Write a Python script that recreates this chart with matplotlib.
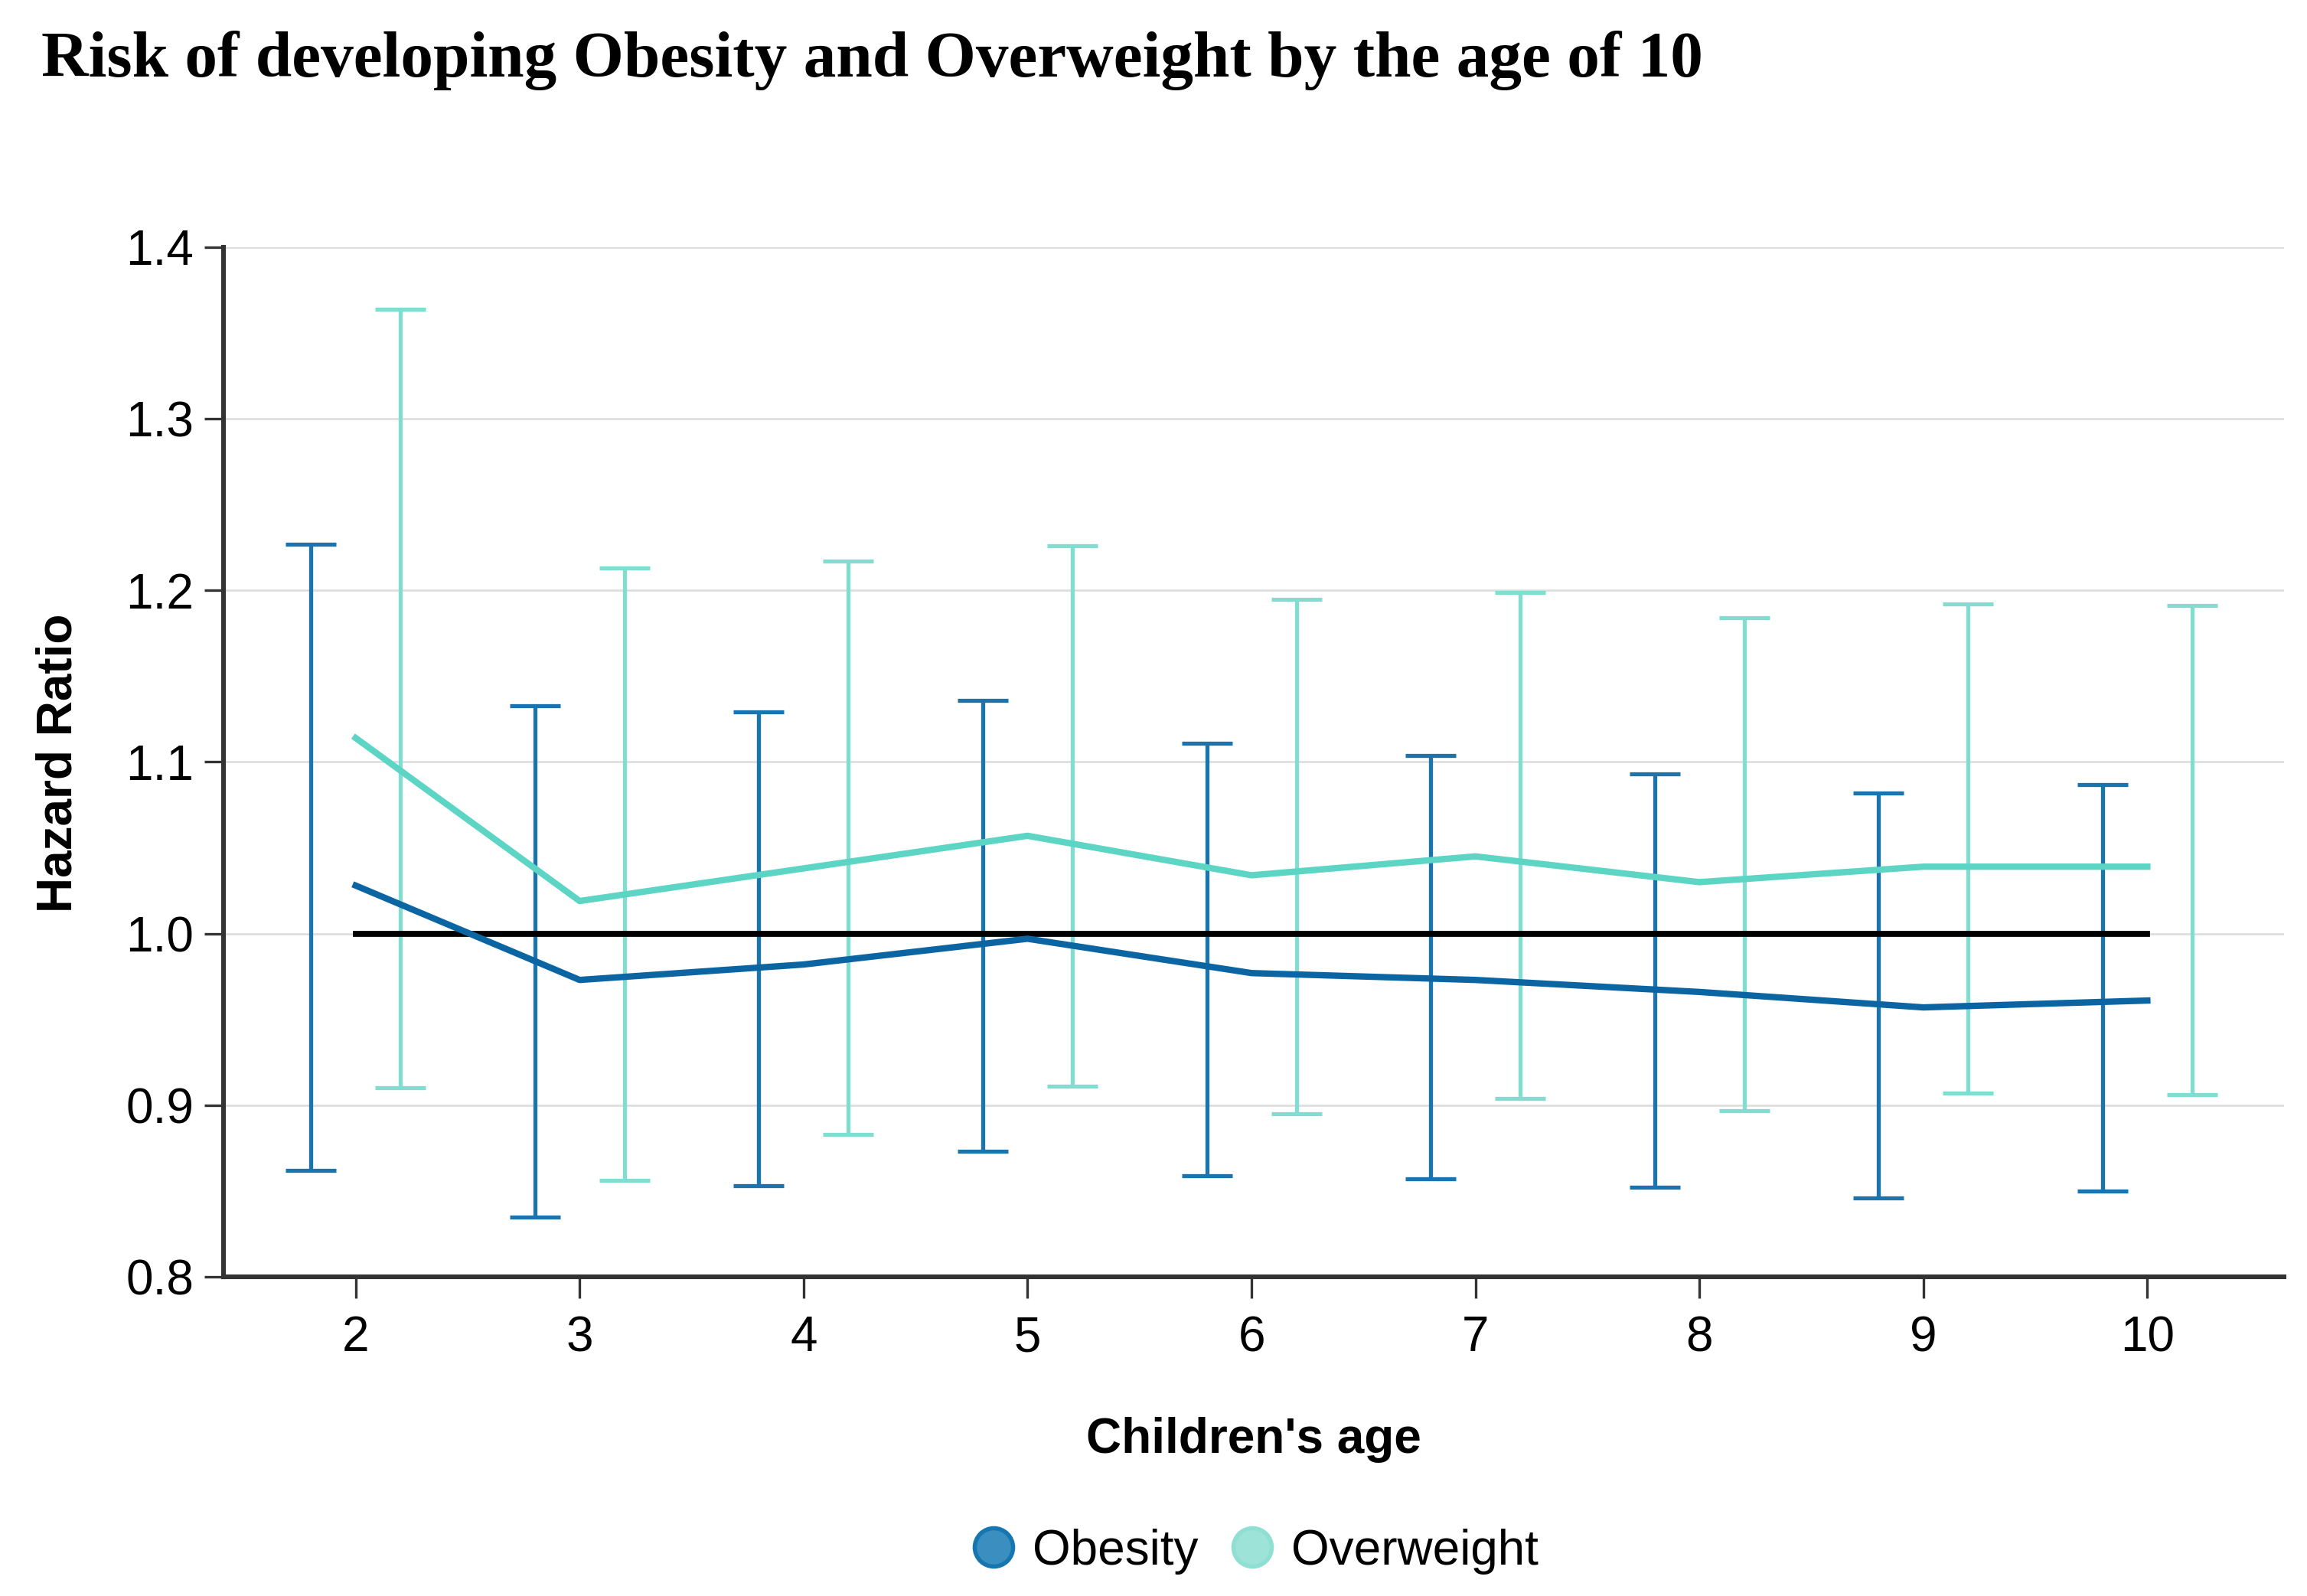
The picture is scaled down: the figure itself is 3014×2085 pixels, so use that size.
import numpy as np
import matplotlib
matplotlib.use("Agg")
import matplotlib.pyplot as plt
from matplotlib.lines import Line2D

# Data
ages = [2, 3, 4, 5, 6, 7, 8, 9, 10]

obesity_hr = [1.028, 0.973, 0.982, 0.997, 0.977, 0.973, 0.966, 0.957, 0.961]
obesity_upper = [1.227, 1.133, 1.129, 1.136, 1.111, 1.104, 1.093, 1.082, 1.087]
obesity_lower = [0.862, 0.835, 0.853, 0.873, 0.859, 0.857, 0.852, 0.846, 0.850]

overweight_hr = [1.114, 1.019, 1.038, 1.057, 1.034, 1.045, 1.030, 1.039, 1.039]
overweight_upper = [1.364, 1.213, 1.217, 1.226, 1.195, 1.199, 1.184, 1.192, 1.191]
overweight_lower = [0.910, 0.856, 0.883, 0.911, 0.895, 0.904, 0.897, 0.907, 0.906]

yticks = [0.8, 0.9, 1.0, 1.1, 1.2, 1.3, 1.4]

# Colours
ob_line = "#0b65a3"
ob_err = "#1c74af"
ow_line = "#5dd5c4"
ow_err = "#80ddd0"
axis_col = "#333333"

plt.rcParams["font.family"] = ["Liberation Sans", "DejaVu Sans"]

fig = plt.figure(figsize=(15.07, 10.425), dpi=200)
ax = fig.add_axes([0.0969, 0.2000, 0.8931, 0.6451])

x = np.array(ages, dtype=float)

# grid
ax.set_axisbelow(True)
ax.grid(axis="y", color="#dcdcdc", linewidth=0.9)
ax.grid(axis="x", visible=False)

# error bars (offset left / right of each age)
ob_mid = (np.array(obesity_upper) + np.array(obesity_lower)) / 2
ob_half = (np.array(obesity_upper) - np.array(obesity_lower)) / 2
ow_mid = (np.array(overweight_upper) + np.array(overweight_lower)) / 2
ow_half = (np.array(overweight_upper) - np.array(overweight_lower)) / 2

ax.errorbar(x - 0.2, ob_mid, yerr=ob_half, fmt="none", ecolor=ob_err,
            elinewidth=1.9, capsize=12, capthick=1.9, zorder=2)
ax.errorbar(x + 0.2, ow_mid, yerr=ow_half, fmt="none", ecolor=ow_err,
            elinewidth=1.9, capsize=12, capthick=1.9, zorder=2)

# reference line at HR = 1
ax.plot([ages[0], ages[-1]], [1.0, 1.0], color="black", linewidth=2.8, zorder=3)

# mean lines
ax.plot(x, overweight_hr, color=ow_line, linewidth=3.0, zorder=4)
ax.plot(x, obesity_hr, color=ob_line, linewidth=3.0, zorder=4)

ax.set_xlim(1.41, 10.61)
ax.set_ylim(0.8, 1.4)
ax.set_xticks(ages)
ax.set_yticks(yticks)
ax.set_yticklabels([f"{v:.1f}" for v in yticks])

for s in ["top", "right"]:
    ax.spines[s].set_visible(False)
for s in ["left", "bottom"]:
    ax.spines[s].set_color(axis_col)
    ax.spines[s].set_linewidth(2.2)

ax.tick_params(axis="x", direction="out", length=10, width=1.2, color=axis_col,
               pad=8, labelsize=23, labelcolor="black")
ax.tick_params(axis="y", direction="out", length=9, width=1.2, color=axis_col,
               pad=5, labelsize=23, labelcolor="black")

# titles and labels
fig.text(0.018, 1 - 100 / 2085, "Risk of developing Obesity and Overweight by the age of 10",
         family="Liberation Serif", fontweight="bold", fontsize=30.7,
         ha="left", va="baseline")
fig.text(0.0255, 0.522, "Hazard Ratio", rotation=90, fontweight="bold",
         fontsize=23, ha="center", va="center")
fig.text(0.5435, 1 - 1898 / 2085, "Children's age", fontweight="bold",
         fontsize=23, ha="center", va="baseline")

handles = [
    Line2D([], [], linestyle="none", marker="o", markersize=18,
           markerfacecolor="#3a8fc0", markeredgecolor="#1677b0", markeredgewidth=2),
    Line2D([], [], linestyle="none", marker="o", markersize=18,
           markerfacecolor="#9de3d8", markeredgecolor="#8fdfd2", markeredgewidth=2),
]
fig.legend(handles, ["Obesity", "Overweight"], loc="center",
           bbox_to_anchor=(0.5435, 0.028), ncol=2, frameon=False,
           fontsize=23, handletextpad=0.3, columnspacing=0.6,
           handlelength=1.0, borderpad=0)

fig.savefig("out.png", dpi=200)
